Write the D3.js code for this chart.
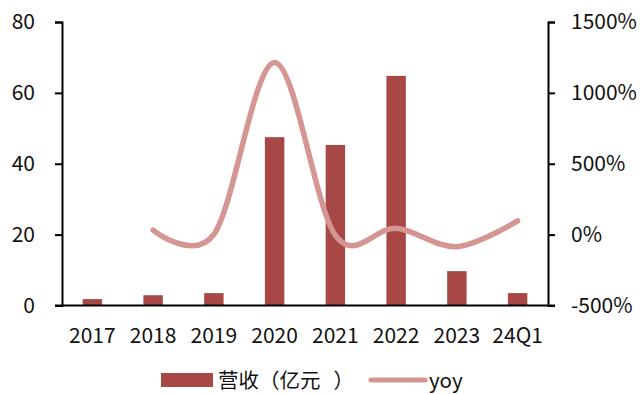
<!DOCTYPE html>
<html>
<head>
<meta charset="utf-8">
<script src="https://cdn.jsdelivr.net/npm/d3@7/dist/d3.min.js"></script>
<style>
  html, body { margin: 0; padding: 0; background: #fff; }
  svg text { font-family: "Noto Sans CJK SC", "Noto Sans", sans-serif; fill: #111; }
</style>
</head>
<body>
<svg id="chart" width="640" height="394"></svg>
<script>
// Revenue (100M CNY) and year-over-year growth (%)
const categories = ["2017", "2018", "2019", "2020", "2021", "2022", "2023", "24Q1"];
const revenue = [1.8, 2.9, 3.5, 47.5, 45.3, 64.8, 9.7, 3.5];
const yoyYears = ["2018", "2019", "2020", "2021", "2022", "2023", "24Q1"];
const yoy = [32, 2, 1215, -5, 45, -85, 97];
const leftTicks = [0, 20, 40, 60, 80];
const rightTicks = [-500, 0, 500, 1000, 1500];
const legendLabels = ["营收（亿元）", "yoy"];

const barColor = "#a84846";
const lineColor = "#d59593";

const svg = d3.select("#chart");
const plotLeft = 62, plotRight = 548, plotTop = 22, plotBottom = 305.5;

const x = d3.scaleBand().domain(categories).range([plotLeft, plotRight]).padding(0);
const barW = x.bandwidth() * 0.32;
const yL = d3.scaleLinear().domain([0, 80]).range([plotBottom, plotTop]);
const yR = d3.scaleLinear().domain([-500, 1500]).range([plotBottom, plotTop]);

// bars
svg.append("g").selectAll("rect").data(categories).join("rect")
  .attr("x", (d) => x(d) + x.bandwidth() / 2 - barW / 2)
  .attr("width", barW)
  .attr("y", (d, i) => yL(revenue[i]))
  .attr("height", (d, i) => yL(0) - yL(revenue[i]))
  .attr("fill", barColor);

// smoothed yoy line
const line = d3.line()
  .x((d, i) => x(yoyYears[i]) + x.bandwidth() / 2)
  .y((d) => yR(d))
  .curve(d3.curveCardinal.tension(0));
svg.append("path").datum(yoy)
  .attr("d", line)
  .attr("fill", "none")
  .attr("stroke", lineColor)
  .attr("stroke-width", 5.5)
  .attr("stroke-linecap", "round");

// left axis
const gL = svg.append("g").attr("transform", `translate(${plotLeft},0)`)
  .call(d3.axisLeft(yL).tickValues(leftTicks).tickSize(7).tickPadding(20).tickFormat(d3.format("d")));
// right axis
const gR = svg.append("g").attr("transform", `translate(${plotRight},0)`)
  .call(d3.axisRight(yR).tickValues(rightTicks).tickSize(7).tickPadding(16).tickFormat((d) => d + "%"));
[gL, gR].forEach((g) => {
  g.select(".domain").attr("stroke", "#000").attr("stroke-width", 2);
  g.selectAll(".tick line").attr("stroke", "#000").attr("stroke-width", 2);
  g.selectAll(".tick text").attr("font-size", 21).attr("fill", "#111");
});

// bottom axis
const gB = svg.append("g").attr("transform", `translate(0,${plotBottom})`)
  .call(d3.axisBottom(x).tickSize(0).tickPadding(23));
gB.select(".domain").attr("stroke", "#000").attr("stroke-width", 2)
  .attr("d", `M${plotLeft - 7},0H${plotRight + 7}`);
gB.selectAll(".tick text").attr("font-size", 21).attr("fill", "#111");

// legend; the closing bracket is nudged so it sits centred in its box
const lg = svg.append("g");
lg.append("rect").attr("x", 161).attr("y", 373).attr("width", 52).attr("height", 14).attr("fill", barColor);
const legText = lg.append("text").attr("x", 218).attr("y", 388).attr("font-size", 20.5);
const parts = legendLabels[0].match(/[（）]|[^（）]+/g);
const nudge = { "）": 13 };
parts.forEach((p) => {
  const ts = legText.append("tspan").text(p);
  if (nudge[p]) ts.attr("dx", nudge[p]);
});
lg.append("line").attr("x1", 371).attr("x2", 425).attr("y1", 380).attr("y2", 380)
  .attr("stroke", lineColor).attr("stroke-width", 5).attr("stroke-linecap", "round");
lg.append("text").attr("x", 429).attr("y", 388).attr("font-size", 20.5).text(legendLabels[1]);
</script>
</body>
</html>
